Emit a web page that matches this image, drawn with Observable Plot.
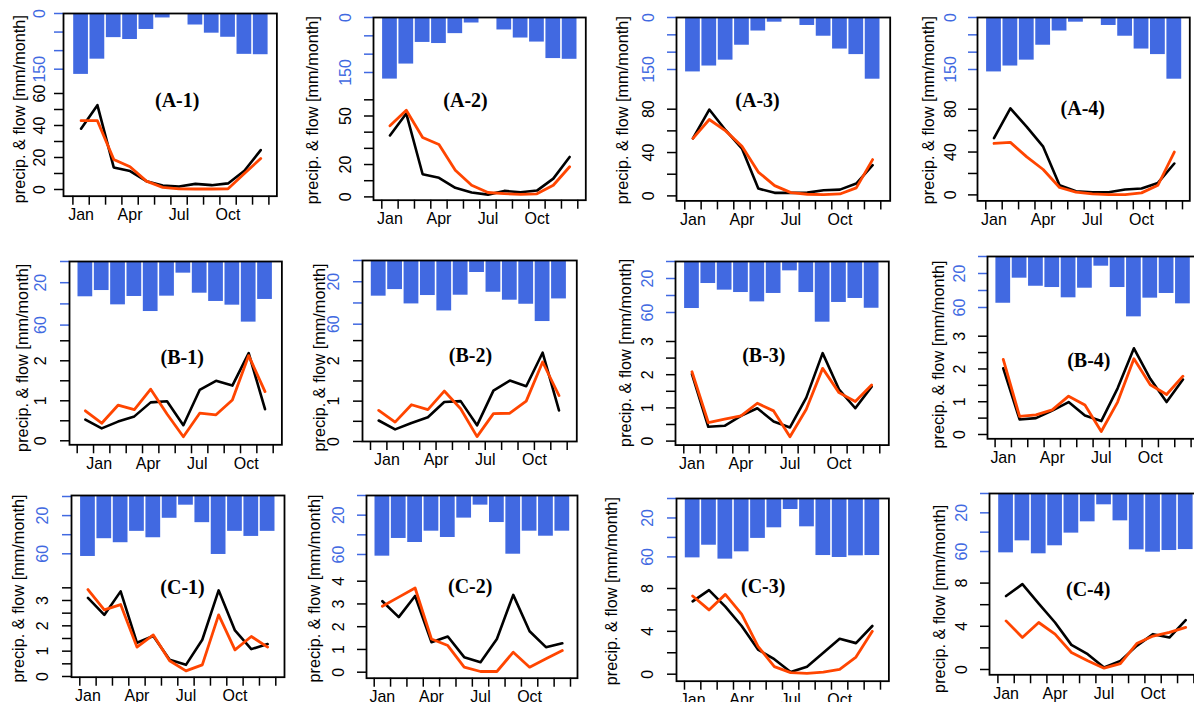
<!DOCTYPE html>
<html><head><meta charset="utf-8">
<script src="https://cdn.jsdelivr.net/npm/d3@7"></script>
<script src="https://cdn.jsdelivr.net/npm/@observablehq/plot@0.6"></script>
<style>
body{margin:0;background:#fff;}
#root{position:relative;width:1194px;height:702px;overflow:hidden;background:#fff;}
#root svg{position:absolute;max-width:none;}
</style></head><body><div id="root"></div>
<script>
// ---------- data ----------
const monthLabels = ["Jan", "Apr", "Jul", "Oct"];
const yTitle = "precip. & flow [mm/month]";

const precipA1 = [164, 123, 65, 70, 43, 12, 2, 31, 53, 64, 110, 111];
const obsA1 = [38, 52.7, 13.8, 11.5, 5.2, 2.5, 1.9, 3.5, 2.7, 3.8, 11.7, 24.6];
const simA1 = [43, 43, 18.8, 14.2, 5.2, 1.3, 0.4, 0.3, 0.3, 0.4, 10, 19.4];

const precipA2 = [168, 127, 68, 71, 44, 15, 0.5, 34, 56, 67, 112, 114];
const obsA2 = [38, 51.5, 14, 11.8, 5.6, 2.7, 1.4, 3.7, 2.9, 3.9, 11.3, 24.7];
const simA2 = [44, 53.6, 36.7, 32.4, 16.5, 7.2, 2.7, 2, 1.6, 1.9, 7.2, 18.6];

const precipA3 = [157, 140, 123, 80, 39, 13.5, 0.5, 23, 54, 91, 107, 178];
const obsA3 = [53, 79.7, 60.6, 43.7, 6.8, 2.8, 2.8, 3, 5.2, 5.8, 11.4, 28.3];
const simA3 = [53, 70.5, 60, 45.8, 22, 9.5, 3, 1.5, 1.2, 1.8, 7.4, 33.5];

const precipA4 = [157, 140, 123, 80, 39, 13.5, 0.5, 23, 54, 91, 107, 178];
const obsA4 = [53, 80.7, 63.5, 45, 9, 3.4, 2.5, 2.5, 5, 6, 11.2, 29.3];
const simA4 = [48, 49, 35.5, 23.7, 6.9, 2.5, 0.9, 0.3, 0.3, 1.9, 9, 40];

const precipB1 = [33.3, 27.4, 40.9, 33, 47.2, 32.7, 11, 29.9, 37.7, 41.2, 57.2, 35.8];
const obsB1 = [0.53, 0.31, 0.48, 0.61, 0.96, 0.99, 0.39, 1.27, 1.5, 1.38, 2.19, 0.79];
const simB1 = [0.75, 0.44, 0.89, 0.78, 1.29, 0.67, 0.1, 0.69, 0.65, 1.02, 2.13, 1.23];

const precipB2 = [33.6, 27.4, 40.9, 33, 47.5, 32.7, 11.3, 29.9, 37.4, 41.2, 57.5, 36.2];
const obsB2 = [0.52, 0.3, 0.46, 0.6, 0.98, 1.0, 0.4, 1.26, 1.51, 1.37, 2.2, 0.77];
const simB2 = [0.77, 0.48, 0.91, 0.79, 1.25, 0.81, 0.12, 0.69, 0.7, 1.0, 1.97, 1.14];

const precipB3 = [55.3, 25.9, 33.7, 36.5, 47.5, 37.6, 11, 36.5, 71.4, 48.2, 43.5, 55];
const obsB3 = [2.02, 0.43, 0.46, 0.76, 0.99, 0.59, 0.41, 1.31, 2.65, 1.56, 0.99, 1.64];
const simB3 = [2.09, 0.56, 0.66, 0.76, 1.14, 0.91, 0.13, 0.96, 2.19, 1.46, 1.19, 1.69];

const precipB4 = [55, 25.5, 35, 36.5, 48.6, 37.3, 11.4, 36.5, 71, 49, 43.5, 55.7];
const obsB4 = [2.02, 0.46, 0.5, 0.73, 0.99, 0.58, 0.41, 1.41, 2.63, 1.7, 0.99, 1.68];
const simB4 = [2.29, 0.55, 0.6, 0.75, 1.17, 0.9, 0.09, 0.99, 2.31, 1.52, 1.22, 1.78];

const precipC1 = [62.8, 44.2, 48.4, 36.5, 43.2, 22.8, 9.1, 27.4, 60.7, 36.5, 41.8, 36.5];
const obsC1 = [3.1, 2.43, 3.36, 1.33, 1.6, 0.66, 0.46, 1.45, 3.4, 1.82, 1.08, 1.28];
const simC1 = [3.43, 2.63, 2.84, 1.16, 1.64, 0.62, 0.22, 0.46, 2.43, 1.05, 1.58, 1.16];

const precipC2 = [61.7, 43.7, 47.8, 36.3, 42.7, 23, 9.8, 27.5, 59.7, 36.3, 41.4, 36.3];
const obsC2 = [3.12, 2.42, 3.35, 1.32, 1.57, 0.66, 0.44, 1.46, 3.4, 1.8, 1.1, 1.27];
const simC2 = [2.9, 3.3, 3.7, 1.46, 1.17, 0.22, 0.03, 0.03, 0.88, 0.22, 0.59, 0.95];

const precipC3 = [61, 48, 62.3, 54.8, 41, 30.1, 11.3, 29.1, 58.6, 60.6, 58.9, 58.6];
const obsC3 = [6.8, 7.85, 6.3, 4.5, 2.3, 1.4, 0.2, 0.7, 2.0, 3.3, 2.9, 4.5];
const simC3 = [7.3, 6.0, 7.45, 5.6, 2.6, 0.7, 0.15, 0.08, 0.2, 0.45, 1.6, 4.0];

const precipC4 = [61.4, 49, 62.4, 54.1, 41, 29.3, 11.7, 28.3, 58.3, 60.7, 59, 58];
const obsC4 = [6.8, 7.9, 6.1, 4.35, 2.28, 1.42, 0.19, 0.8, 2.19, 3.27, 2.96, 4.57];
const simC4 = [4.5, 2.96, 4.35, 3.27, 1.57, 0.8, 0.12, 0.55, 2.4, 3.1, 3.43, 3.9];

// tick values and labels
const precipTicksA = [0, 50, 100, 150], precipLabelsA = [0, 150];
const precipTicksBC = [0, 20, 40, 60], precipLabelsBC = [20, 60];
const flowTicksA12 = [0, 10, 20, 30, 40, 50, 60];
const flowLabelsA1 = [0, 20, 40, 60], flowLabelsA2 = [0, 20, 50];
const flowTicksA34 = [0, 20, 40, 60, 80], flowLabelsA34 = [0, 40, 80];
const flowTicksB12 = [0, 0.5, 1, 1.5, 2, 2.5], flowLabelsB12 = [0, 1, 2];
const flowTicksB34 = [0, 0.5, 1, 1.5, 2, 2.5, 3], flowLabelsB34 = [0, 1, 2, 3];
const flowTicksC1 = [0, 0.5, 1, 1.5, 2, 2.5, 3, 3.5], flowLabelsC1 = [0, 1, 2, 3];
const flowTicksC2 = [0, 1, 2, 3, 4], flowLabelsC2 = [0, 1, 2, 3, 4];
const flowTicksC34 = [0, 2, 4, 6, 8], flowLabelsC34 = [0, 4, 8];
const monthAtCenter = [1, 4, 7, 10];
const monthAtB1 = [1.85, 4.85, 7.85, 10.85];
const monthAtB2 = [1.5, 4.5, 7.5, 10.5];

const panels = [
  {name: "(A-1)", precip: precipA1, obs: obsA1, sim: simA1, pT: precipTicksA, pL: precipLabelsA, fT: flowTicksA12, fL: flowLabelsA1, mAt: monthAtCenter},
  {name: "(A-2)", precip: precipA2, obs: obsA2, sim: simA2, pT: precipTicksA, pL: precipLabelsA, fT: flowTicksA12, fL: flowLabelsA2, mAt: monthAtCenter},
  {name: "(A-3)", precip: precipA3, obs: obsA3, sim: simA3, pT: precipTicksA, pL: precipLabelsA, fT: flowTicksA34, fL: flowLabelsA34, mAt: monthAtCenter},
  {name: "(A-4)", precip: precipA4, obs: obsA4, sim: simA4, pT: precipTicksA, pL: precipLabelsA, fT: flowTicksA34, fL: flowLabelsA34, mAt: monthAtCenter},
  {name: "(B-1)", precip: precipB1, obs: obsB1, sim: simB1, pT: precipTicksBC, pL: precipLabelsBC, fT: flowTicksB12, fL: flowLabelsB12, mAt: monthAtB1},
  {name: "(B-2)", precip: precipB2, obs: obsB2, sim: simB2, pT: precipTicksBC, pL: precipLabelsBC, fT: flowTicksB12, fL: flowLabelsB12, mAt: monthAtB2},
  {name: "(B-3)", precip: precipB3, obs: obsB3, sim: simB3, pT: precipTicksBC, pL: precipLabelsBC, fT: flowTicksB34, fL: flowLabelsB34, mAt: monthAtCenter},
  {name: "(B-4)", precip: precipB4, obs: obsB4, sim: simB4, pT: precipTicksBC, pL: precipLabelsBC, fT: flowTicksB34, fL: flowLabelsB34, mAt: monthAtCenter},
  {name: "(C-1)", precip: precipC1, obs: obsC1, sim: simC1, pT: precipTicksBC, pL: precipLabelsBC, fT: flowTicksC1, fL: flowLabelsC1, mAt: monthAtCenter},
  {name: "(C-2)", precip: precipC2, obs: obsC2, sim: simC2, pT: precipTicksBC, pL: precipLabelsBC, fT: flowTicksC2, fL: flowLabelsC2, mAt: monthAtCenter},
  {name: "(C-3)", precip: precipC3, obs: obsC3, sim: simC3, pT: precipTicksBC, pL: precipLabelsBC, fT: flowTicksC34, fL: flowLabelsC34, mAt: monthAtCenter},
  {name: "(C-4)", precip: precipC4, obs: obsC4, sim: simC4, pT: precipTicksBC, pL: precipLabelsBC, fT: flowTicksC34, fL: flowLabelsC34, mAt: monthAtCenter}
];

// ---------- layout (pixel geometry of each panel) ----------
const layout = [
  {L:63.3, R:276.7, T:13.3, B:196,  t1:72.7,  t13:268.7, p0:13.3, pRef:150, pPx:69,   f0:189.3, fRef:60, fPx:93.3,  yLab:24, tX:19.5, tY:109, lX:177,  lY:100},
  {L:373,  R:585.3, T:17.3, B:200,  t1:381.3, t13:577.3, p0:17.3, pRef:150, pPx:72.3, f0:196.7, fRef:50, fPx:115.8, yLab:28, tX:312,  tY:110, lX:465,  lY:100},
  {L:676,  R:889.7, T:17.3, B:200.7,t1:684.3, t13:880.3, p0:17.3, pRef:150, pPx:69.3, f0:195.7, fRef:80, fPx:109,   yLab:28, tX:622,  tY:110, lX:757,  lY:100},
  {L:976.7,R:1189,  T:17.3, B:200.7,t1:985,   t13:1181.7,p0:17.3, pRef:150, pPx:69.3, f0:194.7, fRef:80, fPx:109,   yLab:27, tX:928,  tY:110, lX:1082, lY:108},
  {L:69.3, R:281.7, T:260.7,B:444,  t1:77,    t13:273,   p0:260.7,pRef:60,  pPx:324.3,f0:440,   fRef:2,  fPx:360,   yLab:29, tX:23,   tY:357, lX:182,  lY:357},
  {L:362,  R:576.3, T:260,  B:441,  t1:370,   t13:566.7, p0:260,  pRef:60,  pPx:323.7,f0:441,   fRef:2,  fPx:360.3, yLab:29, tX:319,  tY:357, lX:470,  lY:355},
  {L:674.7,R:888,   T:260.7,B:444.3,t1:683,   t13:879,   p0:260.7,pRef:60,  pPx:311.7,f0:440.3, fRef:3,  fPx:340.7, yLab:28, tX:625,  tY:352, lX:763,  lY:355},
  {L:986.7,R:1197,  T:256,  B:438.3,t1:994.3, t13:1190.3,p0:256,  pRef:60,  pPx:307,  f0:434,   fRef:3,  fPx:335.7, yLab:28, tX:938,  tY:354, lX:1088, lY:360},
  {L:71,   R:284,   T:495,  B:676.7,t1:79.3,  t13:275.3, p0:496,  pRef:60,  pPx:553.3,f0:676,   fRef:3,  fPx:600,   yLab:29, tX:18,   tY:588, lX:182,  lY:587},
  {L:366.3,R:577.3, T:495,  B:677.7,t1:374,   t13:570.3, p0:495,  pRef:60,  pPx:554,  f0:671.7, fRef:4,  fPx:580.7, yLab:28, tX:315,  tY:588, lX:470,  lY:586},
  {L:676.3,R:888.7, T:498.3,B:681,  t1:684.3, t13:880.3, p0:498.3,pRef:60,  pPx:556.7,f0:674,   fRef:8,  fPx:588.3, yLab:29, tX:612,  tY:591, lX:763,  lY:586},
  {L:989.3,R:1197,  T:492.7,B:674,  t1:997.7, t13:1193.7,p0:492.7,pRef:60,  pPx:550.7,f0:668.7, fRef:8,  fPx:582.3, yLab:28, tX:940,  tY:598, lX:1088, lY:589}
];

const FONT = "'Liberation Sans', Arial, Helvetica, sans-serif";
const root = document.getElementById("root");
const boundaries = d3.range(0.5, 13, 1);

panels.forEach((p, k) => {
  const g = layout[k];
  const mL = 80, mR = 12, mT = 12, mB = 36;
  const W = g.R - g.L + mL + mR, H = g.B - g.T + mT + mB;
  const s = (g.t13 - g.t1) / 12;
  const xDomain = [0.5 - (g.t1 - g.L) / s, 12.5 + (g.R - g.t13) / s];
  const kp = (g.pPx - g.p0) / g.pRef;
  const pDomain = [(g.B - g.p0) / kp, (g.T - g.p0) / kp];
  const kf = (g.f0 - g.fPx) / g.fRef;
  const fDomain = [(g.f0 - g.B) / kf, (g.f0 - g.T) / kf];

  const bars = p.precip.map((v, i) => ({x1: i + 0.5, x2: i + 1.5, v}));
  const obs = p.obs.map((v, i) => ({m: i + 1, v}));
  const sim = p.sim.map((v, i) => ({m: i + 1, v}));
  const mMap = new Map(p.mAt.map((v, i) => [v, monthLabels[i]]));
  const common = {width: W, height: H, marginLeft: mL, marginRight: mR, marginTop: mT, marginBottom: mB};

  const base = Plot.plot({
    ...common,
    style: {fontFamily: FONT, fontSize: "16px", background: "transparent", overflow: "visible"},
    x: {domain: xDomain},
    y: {domain: pDomain},
    marks: [
      Plot.rect(bars, {x1: "x1", x2: "x2", y1: 0, y2: "v", fill: "royalblue", insetLeft: 0.8, insetRight: 0.8}),
      Plot.axisY({ticks: p.pT, tickFormat: d => p.pL.includes(d) ? String(d) : "", tickRotate: -90,
        tickSize: 9, tickPadding: g.yLab - 9, lineAnchor: "middle", color: "royalblue", fontSize: 16, strokeWidth: 1.5, label: null}),
      Plot.axisX({ticks: boundaries, tickSize: 9, tickFormat: () => "", strokeWidth: 1.5, label: null}),
      Plot.axisX({ticks: p.mAt, tickSize: 0, tickPadding: 12.5, tickFormat: d => mMap.get(d), fontSize: 16, label: null}),
      Plot.frame({strokeWidth: 1.8}),
      Plot.text([yTitle], {text: d => d, frameAnchor: "top-left", textAnchor: "middle", lineAnchor: "middle",
        dx: g.tX - g.L, dy: g.tY - g.T, rotate: -90, fontSize: 16.3}),
      Plot.text([p.name], {text: d => d, frameAnchor: "top-left", textAnchor: "middle", lineAnchor: "middle",
        dx: g.lX - g.L, dy: g.lY - g.T, fontSize: 20,
        fontWeight: "bold", fontFamily: "'Liberation Serif', 'Times New Roman', serif"})
    ]
  });

  const over = Plot.plot({
    ...common,
    style: {fontFamily: FONT, fontSize: "16px", background: "transparent", overflow: "visible"},
    x: {domain: xDomain, axis: null},
    y: {domain: fDomain},
    marks: [
      Plot.axisY({ticks: p.fT, tickFormat: d => p.fL.includes(d) ? String(d) : "", tickRotate: -90,
        tickSize: 9, tickPadding: g.yLab - 9, lineAnchor: "middle", fontSize: 16, strokeWidth: 1.5, label: null}),
      Plot.line(obs, {x: "m", y: "v", stroke: "black", strokeWidth: 2.6}),
      Plot.line(sim, {x: "m", y: "v", stroke: "orangered", strokeWidth: 2.8})
    ]
  });

  for (const svg of [base, over]) {
    svg.style.left = (g.L - mL) + "px";
    svg.style.top = (g.T - mT) + "px";
    root.appendChild(svg);
  }
});
</script></body></html>
